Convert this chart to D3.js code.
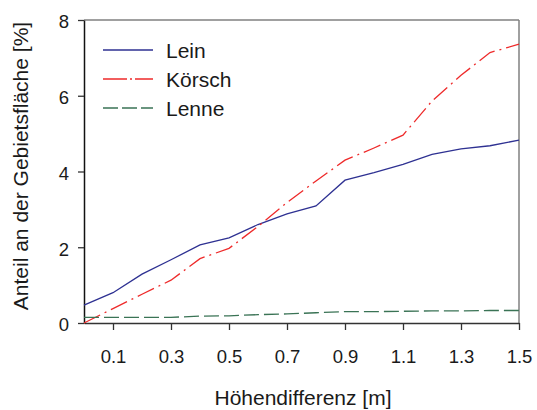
<!DOCTYPE html>
<html><head><meta charset="utf-8">
<script src="https://cdn.jsdelivr.net/npm/d3@7"></script>
<style>body{margin:0;background:#fff}svg{display:block}text{font-family:"Liberation Sans",Arial,sans-serif;fill:#1a1a1a}</style>
</head><body><svg id="c" width="537" height="410"></svg>
<script>
const xValues = [0,0.1,0.2,0.3,0.4,0.5,0.6,0.7,0.8,0.9,1.0,1.1,1.2,1.3,1.4,1.5];
const lein   = [0.47,0.80,1.29,1.67,2.06,2.25,2.60,2.88,3.09,3.77,3.97,4.19,4.45,4.60,4.68,4.83];
const koersch= [0.00,0.38,0.76,1.13,1.70,1.97,2.55,3.18,3.75,4.30,4.62,4.96,5.86,6.54,7.14,7.36];
const lenne  = [0.15,0.15,0.15,0.15,0.18,0.19,0.22,0.24,0.27,0.30,0.30,0.31,0.32,0.32,0.33,0.33];
const seriesNames = ["Lein","Körsch","Lenne"];
const xTicks = [0.1,0.3,0.5,0.7,0.9,1.1,1.3,1.5];
const yTicks = [0,2,4,6,8];
const xTitle = "Höhendifferenz [m]";
const yTitle = "Anteil an der Gebietsfläche [%]";

const svg = d3.select("#c");
const L=84,R=519,T=20,B=323;
const x = d3.scaleLinear().domain([0,1.5]).range([L,R]);
const y = d3.scaleLinear().domain([0,8]).range([B,T]);

// frame top/right
svg.append("line").attr("x1",L).attr("x2",R).attr("y1",T).attr("y2",T).attr("stroke","#808080").attr("stroke-width",1.5);
svg.append("line").attr("x1",R).attr("x2",R).attr("y1",T).attr("y2",B).attr("stroke","#808080").attr("stroke-width",1.5);

const xa = svg.append("g").attr("transform",`translate(0,${B})`)
  .call(d3.axisBottom(x).tickValues(xTicks).tickFormat(d3.format(".1f")).tickSize(7).tickSizeOuter(0));
xa.select(".domain").attr("stroke","#333").attr("stroke-width",1.5);
xa.selectAll(".tick line").attr("stroke","#333").attr("stroke-width",1.3);
xa.selectAll("text").attr("font-size",18.5).attr("dy","1.6em").attr("fill","#1a1a1a").style("font-family","Liberation Sans, Arial");

const ya = svg.append("g").attr("transform",`translate(${L},0)`)
  .call(d3.axisLeft(y).tickValues(yTicks).tickFormat(d3.format("d")).tickSize(6).tickSizeOuter(0));
ya.select(".domain").attr("stroke","#111").attr("stroke-width",1.5);
ya.selectAll(".tick line").attr("stroke","#333").attr("stroke-width",1.3);
ya.selectAll("text").attr("font-size",18.5).attr("x",-15).attr("dy","0.42em").attr("fill","#1a1a1a").style("font-family","Liberation Sans, Arial");

const styles = [
  {c:"#2e3192",d:null},
  {c:"#ee2a2a",d:"18,5,2,5"},
  {c:"#3a7355",d:"15,5"}
];
const data=[lein,koersch,lenne];
const line = d3.line().x((d,i)=>x(xValues[i])).y(d=>y(d));
data.forEach((s,k)=>{
  svg.append("path").datum(s).attr("d",line).attr("fill","none")
    .attr("stroke",styles[k].c).attr("stroke-width",1.3)
    .attr("stroke-dasharray",styles[k].d);
});

// legend
const ly=[50,79,108];
seriesNames.forEach((n,k)=>{
  svg.append("line").attr("x1",103).attr("x2",153).attr("y1",ly[k]).attr("y2",ly[k])
    .attr("stroke",styles[k].c).attr("stroke-width",1.3).attr("stroke-dasharray",k==1?"24,3,2,3":(k==2?"15,4":null));
  svg.append("text").attr("x",166).attr("y",ly[k]+7.5).attr("font-size",21).text(n);
});

svg.append("text").attr("x",303).attr("y",405).attr("text-anchor","middle").attr("font-size",21).text(xTitle);
svg.append("text").attr("transform","translate(28,166) rotate(-90)").attr("text-anchor","middle").attr("font-size",21).text(yTitle);
</script></body></html>
